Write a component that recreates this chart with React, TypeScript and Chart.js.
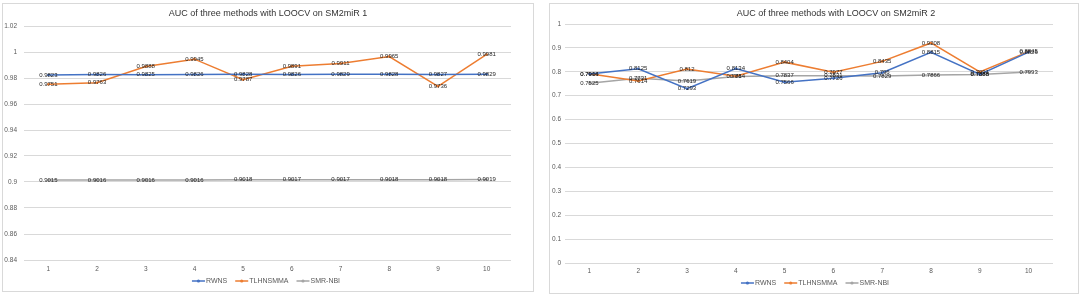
import React, { useEffect, useRef } from "react";
import { Chart, registerables } from "chart.js";

Chart.register(...registerables);

// ---------- data ----------
const categories = ["1", "2", "3", "4", "5", "6", "7", "8", "9", "10"];
const seriesNames = ["RWNS", "TLHNSMMA", "SMR-NBI"];
const seriesColors = ["#4472C4", "#ED7D31", "#A5A5A5"];

const rwns1 = [0.9823, 0.9826, 0.9825, 0.9826, 0.9828, 0.9826, 0.9829, 0.9828, 0.9827, 0.9829];
const tlhnsmma1 = [0.9751, 0.9763, 0.9888, 0.9945, 0.9787, 0.9891, 0.9911, 0.9965, 0.9736, 0.9981];
const smrnbi1 = [0.9015, 0.9016, 0.9016, 0.9016, 0.9018, 0.9017, 0.9017, 0.9018, 0.9018, 0.9019];

const rwns2 = [0.7906, 0.8125, 0.7293, 0.8134, 0.7566, 0.7726, 0.796, 0.8815, 0.7885, 0.8826];
const tlhnsmma2 = [0.7914, 0.7614, 0.812, 0.7814, 0.8404, 0.7977, 0.8435, 0.9208, 0.7991, 0.8845];
const smrnbi2 = [0.7525, 0.7731, 0.7619, 0.78, 0.7837, 0.7831, 0.7829, 0.7866, 0.7888, 0.7993];

const yTicks1 = [0.84, 0.86, 0.88, 0.9, 0.92, 0.94, 0.96, 0.98, 1, 1.02];
const yTicks2 = [0, 0.1, 0.2, 0.3, 0.4, 0.5, 0.6, 0.7, 0.8, 0.9, 1];

const title1 = "AUC of three methods with LOOCV on SM2miR 1";
const title2 = "AUC of three methods with LOOCV on SM2miR 2";

const FONT = "'Liberation Sans', Arial, sans-serif";

// ---------- plugins ----------
const dataLabelPlugin = {
  id: "pointLabels",
  afterDatasetsDraw(chart: any) {
    const ctx = chart.ctx;
    ctx.save();
    ctx.font = `6px ${FONT}`;
    ctx.fillStyle = "#1f1f1f";
    ctx.textAlign = "center";
    ctx.textBaseline = "middle";
    chart.data.datasets.forEach((ds: any, i: number) => {
      const meta = chart.getDatasetMeta(i);
      meta.data.forEach((pt: any, j: number) => {
        ctx.fillText(String(ds.data[j]), pt.x, pt.y);
      });
    });
    ctx.restore();
  },
};

const titlePlugin = {
  id: "customTitle",
  afterDraw(chart: any, _args: any, opts: any) {
    const ctx = chart.ctx;
    ctx.save();
    ctx.font = `9px ${FONT}`;
    ctx.fillStyle = "#333333";
    ctx.textAlign = "center";
    ctx.textBaseline = "middle";
    ctx.fillText(opts.text, chart.width / 2 + (opts.offsetX || 0), opts.y);
    ctx.restore();
  },
};

const legendPlugin = {
  id: "customLegend",
  afterDraw(chart: any, _args: any, opts: any) {
    const ctx = chart.ctx;
    ctx.save();
    ctx.font = `7px ${FONT}`;
    const lineW = 13;
    const gap = 1;
    const itemGap = 8;
    const items = chart.data.datasets.map((ds: any) => ({
      label: ds.label,
      color: ds.borderColor,
      w: ctx.measureText(ds.label).width,
    }));
    const total =
      items.reduce((s: number, it: any) => s + lineW + gap + it.w, 0) + itemGap * (items.length - 1);
    let x = chart.width / 2 + (opts.offsetX || 0) - total / 2;
    const y = opts.y;
    items.forEach((it: any) => {
      ctx.strokeStyle = it.color;
      ctx.lineWidth = 1.5;
      ctx.beginPath();
      ctx.moveTo(x, y);
      ctx.lineTo(x + lineW, y);
      ctx.stroke();
      ctx.fillStyle = it.color;
      ctx.beginPath();
      ctx.arc(x + lineW / 2, y, 1.6, 0, Math.PI * 2);
      ctx.fill();
      ctx.fillStyle = "#595959";
      ctx.textAlign = "left";
      ctx.textBaseline = "middle";
      ctx.fillText(it.label, x + lineW + gap, y);
      x += lineW + gap + it.w + itemGap;
    });
    ctx.restore();
  },
};

// ---------- chart ----------
type Layout = {
  left: number;
  top: number;
  width: number;
  height: number;
  plotLeft: number;
  plotTop: number;
  padRight: number;
  xAxisH: number;
  yPad: number;
  xPad: number;
  titleY: number;
  titleOffset: number;
  legendY: number;
  legendOffset: number;
};

function LineChart(props: {
  series: number[][];
  yTicks: number[];
  title: string;
  layout: Layout;
}) {
  const ref = useRef<HTMLCanvasElement>(null);
  const { layout: L } = props;
  const cw = L.width - 2;
  const ch = L.height - 2;

  useEffect(() => {
    const yT = props.yTicks;
    const chart = new Chart(ref.current as HTMLCanvasElement, {
      type: "line",
      data: {
        labels: categories,
        datasets: props.series.map((d, i) => ({
          label: seriesNames[i],
          data: d,
          borderColor: seriesColors[i],
          backgroundColor: seriesColors[i],
          borderWidth: 1.5,
          pointRadius: 1.3,
          pointBorderWidth: 0,
          tension: 0,
          fill: false,
        })),
      },
      options: {
        animation: false,
        responsive: false,
        devicePixelRatio: 1,
        layout: { padding: { top: L.plotTop, right: L.padRight, bottom: 0, left: 0 } },
        plugins: {
          legend: { display: false },
          title: { display: false },
          tooltip: { enabled: false },
          customTitle: { text: props.title, offsetX: L.titleOffset, y: L.titleY },
          customLegend: { offsetX: L.legendOffset, y: L.legendY },
        } as any,
        scales: {
          x: {
            offset: true,
            grid: { display: false, drawTicks: false },
            border: { display: false },
            ticks: { color: "#595959", font: { size: 6.5, family: FONT }, padding: L.xPad, maxRotation: 0 },
            afterFit: (s: any) => {
              s.height = L.xAxisH;
            },
          },
          y: {
            min: yT[0],
            max: yT[yT.length - 1],
            grid: { color: "#D9D9D9", lineWidth: 1, drawTicks: false },
            border: { display: false },
            ticks: {
              color: "#595959",
              font: { size: 6.5, family: FONT },
              padding: L.yPad,
              callback: (v: any) => String(parseFloat(Number(v).toFixed(4))),
            },
            afterBuildTicks: (s: any) => {
              s.ticks = yT.map((v) => ({ value: v }));
            },
            afterFit: (s: any) => {
              s.width = L.plotLeft;
            },
          },
        },
      } as any,
      plugins: [dataLabelPlugin, titlePlugin, legendPlugin],
    });
    return () => chart.destroy();
  }, []);

  return (
    <div
      style={{
        position: "absolute",
        left: L.left,
        top: L.top,
        width: L.width,
        height: L.height,
        border: "1px solid #D9D9D9",
        boxSizing: "border-box",
        background: "#fff",
      }}
    >
      <canvas ref={ref} width={cw} height={ch} style={{ display: "block", width: cw, height: ch }} />
    </div>
  );
}

const layout1: Layout = {
  left: 2,
  top: 3,
  width: 532,
  height: 289,
  plotLeft: 21,
  plotTop: 22,
  padRight: 22,
  xAxisH: 31,
  yPad: 7,
  xPad: 5,
  titleY: 10,
  titleOffset: 0,
  legendY: 277,
  legendOffset: -2,
};

const layout2: Layout = {
  left: 549,
  top: 3,
  width: 530,
  height: 291,
  plotLeft: 15,
  plotTop: 20,
  padRight: 25,
  xAxisH: 30,
  yPad: 4,
  xPad: 4.5,
  titleY: 10,
  titleOffset: 22,
  legendY: 279,
  legendOffset: 1,
};

export default function App() {
  return (
    <div style={{ position: "fixed", left: 0, top: 0, width: 1082, height: 296, background: "#fff" }}>
      <LineChart series={[rwns1, tlhnsmma1, smrnbi1]} yTicks={yTicks1} title={title1} layout={layout1} />
      <LineChart series={[rwns2, tlhnsmma2, smrnbi2]} yTicks={yTicks2} title={title2} layout={layout2} />
    </div>
  );
}
